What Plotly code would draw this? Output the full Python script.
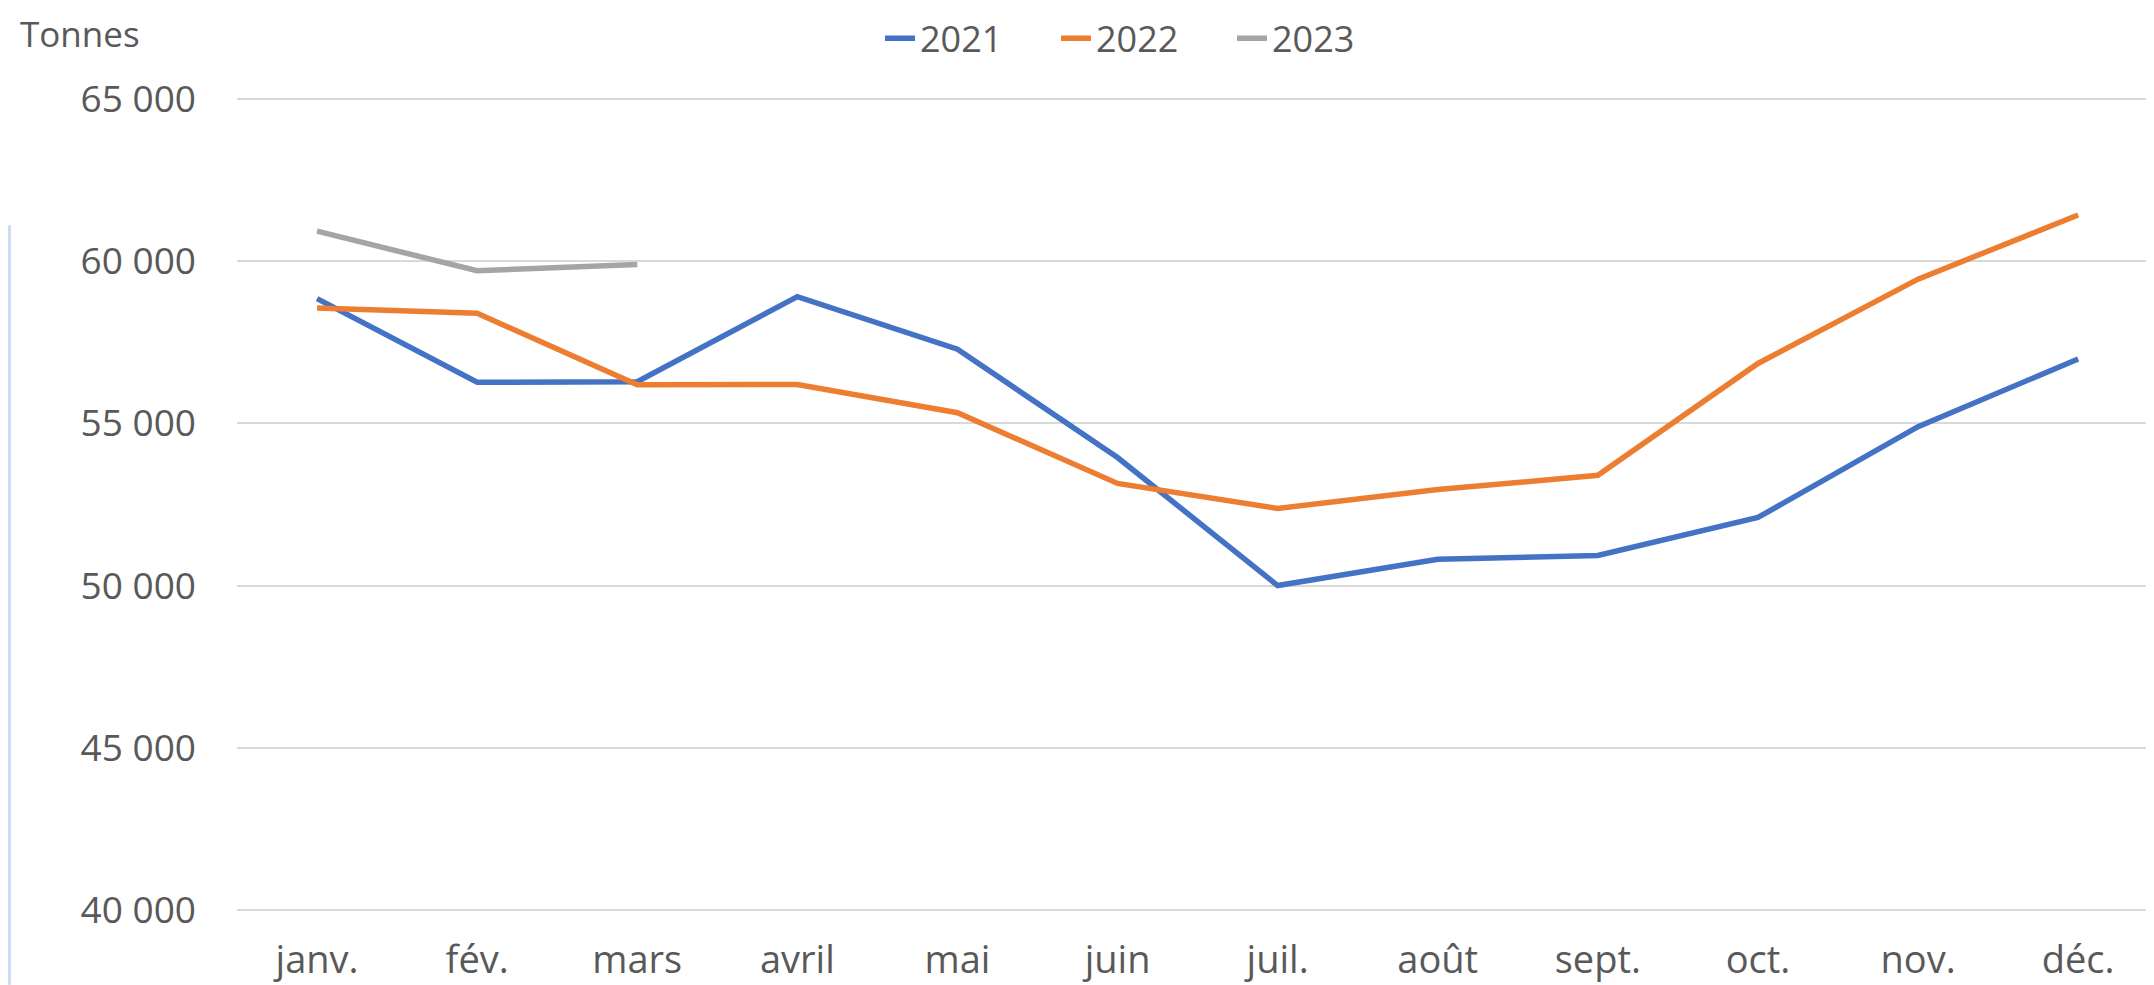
import plotly.graph_objects as go

months = ["janv.", "fév.", "mars", "avril", "mai", "juin", "juil.", "août", "sept.", "oct.", "nov.", "déc."]
s2021 = [58850, 56270, 56290, 58910, 57290, 53950, 50000, 50810, 50930, 52100, 54900, 56990]
s2022 = [58560, 58400, 56190, 56200, 55330, 53150, 52380, 52960, 53400, 56850, 59450, 61430]
s2023 = [60930, 59710, 59900]
series_names = ["2021", "2022", "2023"]
colors = ["#4472C4", "#ED7D31", "#A5A5A5"]
y_ticks = [40000, 45000, 50000, 55000, 60000, 65000]
y_ticktext = ["40 000", "45 000", "50 000", "55 000", "60 000", "65 000"]

# The page body has an 8px default margin: work in screen pixels, convert.
OFF = 8
SW, SH = 2154, 985
W, H = SW - OFF, SH - OFF

# screen rows: 65 000 at y=99, 40 000 at y=910
PXU = 811 / 25000
YMIN, YMAX = 39900, 65100
ext = 100 * PXU
plot_left = 237
T = (99 - OFF) - ext
B = (SH - 910) - ext
L, R = plot_left - OFF, 0
pw, ph = W - L - R, H - T - B

FONT = "Open Sans"
TXT = "#595959"

fig = go.Figure()
for name, vals, c in zip(series_names, [s2021, s2022, s2023], colors):
    fig.add_trace(go.Scatter(
        x=list(range(len(vals))), y=vals, mode="lines", name=name,
        line=dict(color=c, width=5.5, shape="linear"),
        hoverinfo="skip",
    ))

spacing = 160.1
xmax = -0.5 + pw / spacing

def py(sy):
    return (H - B - (sy - OFF)) / ph

def px(sx):
    return ((sx - OFF) - L) / pw

fig.update_layout(
    width=W, height=H,
    margin=dict(l=L, r=R, t=T, b=B, pad=0, autoexpand=False),
    paper_bgcolor="white", plot_bgcolor="white",
    font=dict(family=FONT, size=37, color=TXT),
    showlegend=True,
    legend=dict(
        orientation="h", x=px(1144), xanchor="center",
        y=py(8), yanchor="top",
        font=dict(family=FONT, size=36, color=TXT),
        itemwidth=30, entrywidth=131, tracegroupgap=0,
        bgcolor="rgba(0,0,0,0)", borderwidth=0,
    ),
    xaxis=dict(
        range=[-0.5, xmax], tickmode="array",
        tickvals=list(range(12)), ticktext=months,
        showgrid=False, zeroline=False, showline=False,
        ticks="", ticklabelstandoff=21, automargin=False,
        tickfont=dict(family=FONT, size=38, color=TXT),
        fixedrange=True,
    ),
    yaxis=dict(
        range=[YMIN, YMAX], tickmode="array",
        tickvals=y_ticks, ticktext=y_ticktext,
        showgrid=True, gridcolor="#D9D9D9", gridwidth=2,
        zeroline=False, showline=False, ticks="",
        ticklabelstandoff=40, automargin=False,
        tickfont=dict(family=FONT, size=37, color=TXT),
        fixedrange=True,
    ),
    annotations=[dict(
        text="Tonnes", xref="paper", yref="paper",
        x=px(18), y=py(33),
        xanchor="left", yanchor="middle", showarrow=False,
        font=dict(family=FONT, size=35, color=TXT),
    )],
    shapes=[dict(
        type="rect", xref="paper", yref="paper",
        x0=px(OFF), x1=px(OFF + 3),
        y0=py(985), y1=py(225),
        fillcolor="#C9DDF3", line=dict(width=0), layer="below",
    )],
)

fig.write_html("out.html")
